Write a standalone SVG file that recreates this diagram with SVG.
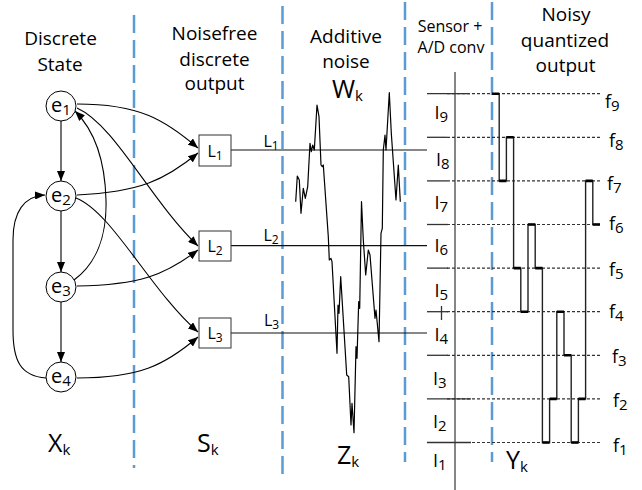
<svg xmlns="http://www.w3.org/2000/svg" width="642" height="490" viewBox="0 0 642 490">
  <style>
    text { font-family: "Open Sans", "Noto Sans", sans-serif; fill: #000; }
    .hdr { font-size: 19px; text-anchor: middle; }
    .hdr-s { font-size: 16px; text-anchor: middle; }
    .var { font-size: 25px; }
    .sub { font-size: 15px; }
    .node { fill: #fff; stroke: #000; stroke-width: 1; }
    .box { fill: #fff; stroke: #333; stroke-width: 1; }
    .elabel { font-size: 20px; text-anchor: middle; }
    .llabel { font-size: 16px; text-anchor: middle; }
    .lvl { font-size: 18px; }
    .sep { stroke: #5b9bd5; stroke-width: 2.5; stroke-dasharray: 18 7; fill: none; }
    .edge { fill: none; stroke: #000; stroke-width: 1.1; marker-end: url(#arrow); }
    .sig { fill: none; stroke: #111; stroke-width: 1.2; }
    .thr { stroke: #333; stroke-width: 1.3; }
    .dot { stroke: #333; stroke-width: 1.2; stroke-dasharray: 3 2; }
  </style>
  <defs>
    <marker id="arrow" viewBox="0 0 10 8" refX="10" refY="4" markerWidth="10" markerHeight="8" markerUnits="userSpaceOnUse" orient="auto">
      <path d="M0,0 L10,4 L0,8 z" fill="#000"/>
    </marker>
  </defs>

  <rect width="642" height="490" fill="#fff"/>

  <!-- column separators -->
  <g id="separators">
    <line class="sep" x1="134" y1="15" x2="134" y2="468"/>
    <line class="sep" x1="282.5" y1="6" x2="282.5" y2="477"/>
    <line class="sep" x1="405" y1="2" x2="405" y2="462"/>
    <line class="sep" x1="492" y1="2" x2="492" y2="462"/>
  </g>

  <!-- column headings -->
  <g id="headings">
    <text class="hdr" x="60.5" y="45">Discrete</text>
    <text class="hdr" x="60" y="71">State</text>
    <text class="hdr" x="214.5" y="40">Noisefree</text>
    <text class="hdr" x="214.5" y="66">discrete</text>
    <text class="hdr" x="214.5" y="90">output</text>
    <text class="hdr" x="346" y="43">Additive</text>
    <text class="hdr" x="346" y="68">noise</text>
    <text class="hdr-s" x="450" y="32">Sensor +</text>
    <text class="hdr-s" x="451" y="53">A/D conv</text>
    <text class="hdr" x="566" y="21">Noisy</text>
    <text class="hdr" x="565" y="47">quantized</text>
    <text class="hdr" x="565.5" y="72">output</text>
  </g>

  <!-- variable names -->
  <g id="variables">
    <text class="var" x="48" y="452">X<tspan class="sub" dy="3">k</tspan></text>
    <text class="var" x="197" y="452">S<tspan class="sub" dy="3">k</tspan></text>
    <text class="var" x="332" y="98">W<tspan class="sub" dy="3">k</tspan></text>
    <text class="var" x="337" y="464">Z<tspan class="sub" dy="3">k</tspan></text>
    <text class="var" x="506" y="469">Y<tspan class="sub" dy="3">k</tspan></text>
  </g>

  <!-- transitions and output edges -->
  <g id="connectors">
    <path class="edge" d="M61,121 L61,181"/>
    <path class="edge" d="M61,211 L61,272"/>
    <path class="edge" d="M61,302 L61,362"/>
    <path class="edge" d="M46,378 C20,376 13,360 13,330 L13,240 C13,212 24,196 45,195"/>
    <path class="edge" d="M74,280 C96,264 107,236 106,200 C105,160 94,130 75,111"/>
    <path class="edge" d="M77,104 C140,104 165,120 198,148"/>
    <path class="edge" d="M77,195 C140,192 165,180 198,153"/>
    <path class="edge" d="M77,108 C115,125 150,200 198,246"/>
    <path class="edge" d="M76,198 C112,212 150,290 198,332"/>
    <path class="edge" d="M77,286 C140,285 165,275 198,250"/>
    <path class="edge" d="M77,378 C140,378 165,365 198,337"/>
    <!-- noise-free levels carried to the sensor -->
    <line class="sig" x1="231" y1="150" x2="427" y2="150"/>
    <line class="sig" x1="231" y1="245.7" x2="427" y2="245.7"/>
    <line class="sig" x1="231" y1="333" x2="427" y2="333"/>
  </g>

  <!-- discrete states -->
  <g id="e1">
    <circle class="node" cx="61" cy="106" r="15"/>
    <text class="elabel" x="61" y="112">e<tspan class="sub" font-size="14" dy="3">1</tspan></text>
  </g>
  <g id="e2">
    <circle class="node" cx="61" cy="196" r="15"/>
    <text class="elabel" x="61" y="202">e<tspan class="sub" font-size="14" dy="3">2</tspan></text>
  </g>
  <g id="e3">
    <circle class="node" cx="61" cy="287" r="15"/>
    <text class="elabel" x="61" y="293">e<tspan class="sub" font-size="14" dy="3">3</tspan></text>
  </g>
  <g id="e4">
    <circle class="node" cx="61" cy="377" r="15"/>
    <text class="elabel" x="61" y="383">e<tspan class="sub" font-size="14" dy="3">4</tspan></text>
  </g>

  <!-- noise-free outputs -->
  <g id="L1">
    <rect class="box" x="199" y="135" width="32" height="31"/>
    <text class="llabel" x="215" y="156.5">L<tspan font-size="12" dy="3">1</tspan></text>
  </g>
  <g id="L2">
    <rect class="box" x="199" y="231" width="32" height="30"/>
    <text class="llabel" x="215" y="252">L<tspan font-size="12" dy="3">2</tspan></text>
  </g>
  <g id="L3">
    <rect class="box" x="199" y="318" width="32" height="30"/>
    <text class="llabel" x="215" y="339">L<tspan font-size="12" dy="3">3</tspan></text>
  </g>

  <!-- level names on the carried lines -->
  <g id="line-labels">
    <text font-size="16" x="263.5" y="146.5">L<tspan font-size="12" dy="3">1</tspan></text>
    <text font-size="16" x="263.5" y="240.5">L<tspan font-size="12" dy="3">2</tspan></text>
    <text font-size="16" x="264" y="326">L<tspan font-size="12" dy="3">3</tspan></text>
  </g>

  <!-- additive noise trace -->
  <polyline id="noise" fill="none" stroke="#000" stroke-width="1.2" stroke-linejoin="round"
    points="295.7,201.7 297.3,176 299.3,180 301,213.3 303.3,188.3 305.3,198.3 307.7,186.7 310,143.3 311.3,151.7 312.7,145 314.3,150 317,105 319,116.7 321,165 322.3,166.7 323.3,165 328.3,236.7 329.3,260 331,258.3 332,261.7 337,353.3 338,305 339,313.3 340.7,276.7 346.7,375 348.7,376.7 351,425 352,403.3 354,432.7 356,346.7 357,358.3 358.7,301.7 359.7,308.3 361.5,201.7 363.3,240 365.7,275 368.3,250 370,255 375,318.3 376,310 379,341.7 381,233.3 382.3,228.3 383.3,150 385,135 386,150 389.3,92.7 391.3,133.3 396,200 398.3,165 400.3,201.7"/>

  <!-- sensor axis and quantization thresholds -->
  <g id="sensor">
    <line x1="455" y1="72" x2="455" y2="490" stroke="#444" stroke-width="1.3"/>
    <line class="thr" x1="427" y1="93.7" x2="470" y2="93.7"/>
    <line class="thr" x1="427" y1="137.3" x2="447" y2="137.3"/>
    <line class="thr" x1="427" y1="180.9" x2="447" y2="180.9"/>
    <line class="thr" x1="427" y1="224.5" x2="448" y2="224.5"/>
    <line class="thr" x1="427" y1="268.1" x2="448" y2="268.1"/>
    <line class="thr" x1="427" y1="311.7" x2="448" y2="311.7"/>
    <line class="thr" x1="427" y1="355.3" x2="448" y2="355.3"/>
    <line class="thr" x1="427" y1="398.9" x2="471" y2="398.9"/>
    <line class="thr" x1="427" y1="442.5" x2="471" y2="442.5"/>
    <line class="thr" x1="441.5" y1="306" x2="441.5" y2="320"/>
    <line class="dot" x1="447" y1="93.7" x2="600" y2="93.7"/>
    <line class="dot" x1="447" y1="137.3" x2="600" y2="137.3"/>
    <line class="dot" x1="447" y1="180.9" x2="600" y2="180.9"/>
    <line class="dot" x1="447" y1="224.5" x2="602" y2="224.5"/>
    <line class="dot" x1="447" y1="268.1" x2="602" y2="268.1"/>
    <line class="dot" x1="447" y1="311.7" x2="602" y2="311.7"/>
    <line class="dot" x1="447" y1="355.3" x2="602" y2="355.3"/>
    <line class="dot" x1="447" y1="398.9" x2="602" y2="398.9"/>
    <line class="dot" x1="447" y1="442.5" x2="602" y2="442.5"/>
  </g>

  <!-- quantization intervals -->
  <g id="intervals" class="lvl">
    <text x="434.5" y="119">I<tspan class="sub" dy="3">9</tspan></text>
    <text x="436" y="166">I<tspan class="sub" dy="3">8</tspan></text>
    <text x="434.5" y="209">I<tspan class="sub" dy="3">7</tspan></text>
    <text x="434.5" y="251.5">I<tspan class="sub" dy="3">6</tspan></text>
    <text x="434.5" y="297">I<tspan class="sub" dy="3">5</tspan></text>
    <text x="434.5" y="340.5">I<tspan class="sub" dy="3">4</tspan></text>
    <text x="433" y="385">I<tspan class="sub" dy="3">3</tspan></text>
    <text x="433" y="428">I<tspan class="sub" dy="3">2</tspan></text>
    <text x="433" y="466.5">I<tspan class="sub" dy="3">1</tspan></text>
  </g>

  <!-- output levels -->
  <g id="levels" class="lvl">
    <text x="605" y="108">f<tspan class="sub" dy="3">9</tspan></text>
    <text x="609" y="147">f<tspan class="sub" dy="3">8</tspan></text>
    <text x="607" y="190">f<tspan class="sub" dy="3">7</tspan></text>
    <text x="609" y="230">f<tspan class="sub" dy="3">6</tspan></text>
    <text x="609" y="276">f<tspan class="sub" dy="3">5</tspan></text>
    <text x="609" y="318">f<tspan class="sub" dy="3">4</tspan></text>
    <text x="612" y="363">f<tspan class="sub" dy="3">3</tspan></text>
    <text x="613" y="407">f<tspan class="sub" dy="3">2</tspan></text>
    <text x="613" y="452">f<tspan class="sub" dy="3">1</tspan></text>
  </g>

  <!-- noisy quantized output sequence -->
  <g id="output">
    <path fill="none" stroke="#222" stroke-width="1.4"
      d="M492,93.7 H499.2 V180.9 H506.4 V137.3 H513.6 V268.1 H520.8 V311.7 H528 V224.5 H535.2 V268.1 H542.4 V442.5 H549.6 V398.9 H556.8 V311.7 H564 V355.3 H571.2 V442.5 H578.4 V398.9 H585.6 V180.9 H592.8 V224.5 H600"/>
    <path fill="none" stroke="#000" stroke-width="2.6"
      d="M492,93.7 H499.2 M499.2,180.9 H506.4 M506.4,137.3 H513.6 M513.6,268.1 H520.8 M520.8,311.7 H528 M528,224.5 H535.2 M535.2,268.1 H542.4 M542.4,442.5 H549.6 M549.6,398.9 H556.8 M556.8,311.7 H564 M564,355.3 H571.2 M571.2,442.5 H578.4 M578.4,398.9 H585.6 M585.6,180.9 H592.8 M592.8,224.5 H600"/>
  </g>
</svg>
